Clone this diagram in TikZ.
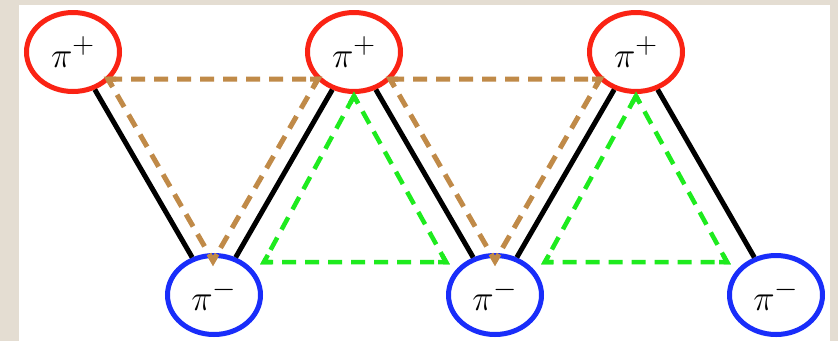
\documentclass[tikz,border=0pt]{standalone}
\usepackage{graphicx}
\usetikzlibrary{shapes.geometric,calc}
\definecolor{framebeige}{RGB}{228,221,210}
\definecolor{pired}{RGB}{250,35,20}
\definecolor{piblue}{RGB}{25,45,250}
\definecolor{tanbrown}{RGB}{192,138,72}
\definecolor{lgreen}{RGB}{30,235,30}
\newcommand\tipcorner[4]{\draw[#1] ($(#3)!8pt!(#2)$) -- (#3) -- ($(#3)!8pt!(#4)$);}
\newcommand\bigsym[1]{\scalebox{1.45}{\Huge$#1$}}
\begin{document}
\begin{tikzpicture}[x=1pt,y=-1pt,
  pnode/.style={ellipse,draw,line width=5pt,minimum width=93pt,minimum height=79pt,inner sep=0pt,fill=white},
  plusnode/.style={pnode,draw=pired},
  minusnode/.style={pnode,draw=piblue},
  bond/.style={line width=5pt,black},
  brownloop/.style={draw=tanbrown,line width=5pt,dash pattern=on 14pt off 9pt,line join=miter},
  greenloop/.style={draw=lgreen,line width=4.5pt,dash pattern=on 14pt off 9pt,line join=miter},
  browntip/.style={draw=tanbrown,line width=5pt,solid,line join=miter},
  greentip/.style={draw=lgreen,line width=4.5pt,solid,line join=miter}]
\fill[framebeige] (0,0) rectangle (838,341);
\fill[white] (19,5) rectangle (830,341);
\useasboundingbox (0,0) rectangle (838,341);

% brown triangles
\coordinate (b1a) at (108,79);
\coordinate (b1b) at (318,79);
\coordinate (b1c) at (213,261);
\coordinate (b2a) at (390,79);
\coordinate (b2b) at (600,79);
\coordinate (b2c) at (495,261);
% green triangles
\coordinate (g1a) at (354,96);
\coordinate (g1b) at (264,262);
\coordinate (g1c) at (446,262);
\coordinate (g2a) at (636,96);
\coordinate (g2b) at (545,262);
\coordinate (g2c) at (727,262);

\node[plusnode] (p1) at (73,52) {\bigsym{\pi^+}};
\node[plusnode] (p2) at (354,52) {\bigsym{\pi^+}};
\node[plusnode] (p3) at (636,52) {\bigsym{\pi^+}};
\node[minusnode] (m1) at (214,295) {\bigsym{\pi^-}};
\node[minusnode] (m2) at (495,295) {\bigsym{\pi^-}};
\node[minusnode] (m3) at (776,295) {\bigsym{\pi^-}};

\draw[bond] (p1) -- (m1);
\draw[bond] (m1) -- (p2);
\draw[bond] (p2) -- (m2);
\draw[bond] (m2) -- (p3);
\draw[bond] (p3) -- (m3);

\draw[brownloop] (b1a) -- (b1b) -- (b1c) -- cycle;
\draw[brownloop] (b2a) -- (b2b) -- (b2c) -- cycle;
\tipcorner{browntip}{b1b}{b1a}{b1c}
\tipcorner{browntip}{b1a}{b1b}{b1c}
\tipcorner{browntip}{b1a}{b1c}{b1b}
\tipcorner{browntip}{b2b}{b2a}{b2c}
\tipcorner{browntip}{b2a}{b2b}{b2c}
\tipcorner{browntip}{b2a}{b2c}{b2b}

\draw[greenloop] (g1a) -- (g1b) -- (g1c) -- cycle;
\draw[greenloop] (g2a) -- (g2b) -- (g2c) -- cycle;
\tipcorner{greentip}{g1b}{g1a}{g1c}
\tipcorner{greentip}{g1a}{g1b}{g1c}
\tipcorner{greentip}{g1a}{g1c}{g1b}
\tipcorner{greentip}{g2b}{g2a}{g2c}
\tipcorner{greentip}{g2a}{g2b}{g2c}
\tipcorner{greentip}{g2a}{g2c}{g2b}
\end{tikzpicture}
\end{document}
